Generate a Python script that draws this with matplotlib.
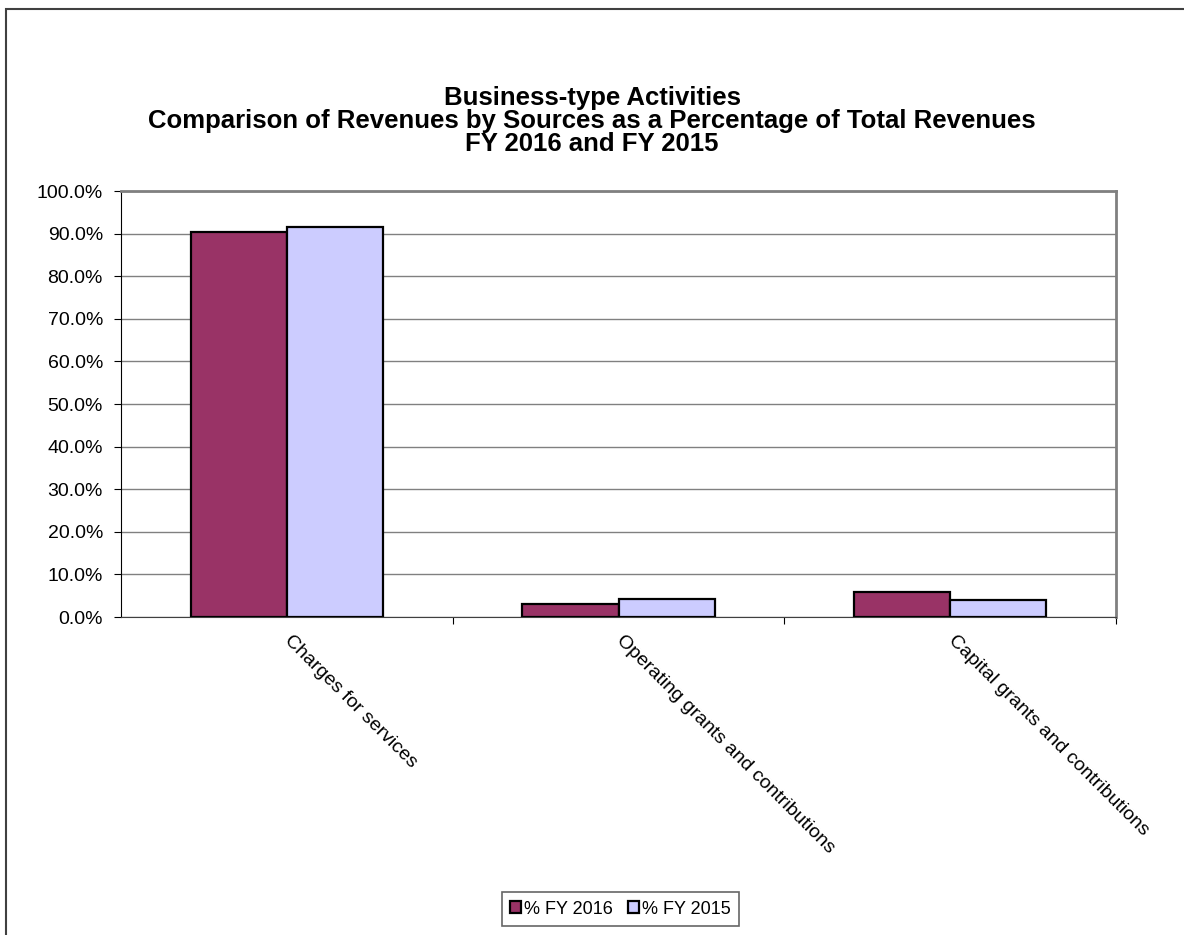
import numpy as np
import matplotlib.pyplot as plt
from matplotlib.patches import Rectangle

plt.rcParams['font.family'] = ['Liberation Sans', 'DejaVu Sans']

categories = ['Charges for services', 'Operating grants and contributions',
              'Capital grants and contributions']
series_names = ['% FY 2016', '% FY 2015']
pct_2016 = [90.4, 3.1, 5.9]
pct_2015 = [91.6, 4.2, 4.0]
yticks = np.arange(0, 101, 10)

colors = ['#993366', '#CCCCFF']

fig = plt.figure(figsize=(11.84, 9.35), dpi=100)
ax = fig.add_axes([0.1022, 0.3401, 0.8404, 0.4556])

x = np.arange(len(categories))
w = 0.29
ax.bar(x - w / 2, pct_2016, w, color=colors[0], edgecolor='black', linewidth=1.6,
       label=series_names[0], zorder=3)
ax.bar(x + w / 2, pct_2015, w, color=colors[1], edgecolor='black', linewidth=1.6,
       label=series_names[1], zorder=3)

ax.set_xlim(-0.5, 2.5)
ax.set_ylim(0, 100)
ax.set_yticks(yticks)
ax.set_yticklabels(['%.1f%%' % v for v in yticks], fontsize=14)
ax.yaxis.grid(True, color='#808080', linewidth=1, zorder=0)

# category ticks sit on the boundaries between groups
ax.set_xticks([0.5, 1.5, 2.5])
ax.set_xticklabels([])
ax.tick_params(axis='x', length=5, color='black')
ax.tick_params(axis='y', length=5, color='black', pad=8)
for i, c in enumerate(categories):
    ax.text(i + 0.02, -3.6, c, rotation=-45, ha='left', va='top', rotation_mode='anchor',
            fontsize=14, transform=ax.transData)

for side in ['top', 'right']:
    ax.spines[side].set_color('#808080')
    ax.spines[side].set_linewidth(2)
ax.spines['left'].set_color('black')
ax.spines['bottom'].set_color('#404040')

fig.text(0.5, 0.8706, 'Business-type Activities\n'
         'Comparison of Revenues by Sources as a Percentage of Total Revenues\n'
         'FY 2016 and FY 2015', ha='center', va='center', fontsize=18.5,
         fontweight='bold', linespacing=0.96)

leg = fig.legend(loc='center', bbox_to_anchor=(0.524, 0.0278), ncol=2, fontsize=13,
                 frameon=True, fancybox=False, edgecolor='#404040', handlelength=0.6,
                 handleheight=0.6, handletextpad=0.2, columnspacing=0.8,
                 borderpad=0.45)
leg.get_frame().set_linewidth(1.2)

# outer chart border
fig.patches.append(Rectangle((6 / 1184, -0.01), 1.02, 1 - 9 / 935 + 0.01,
                             transform=fig.transFigure, fill=False,
                             edgecolor='#404040', linewidth=1.5))

fig.savefig('out.png', dpi=100)
